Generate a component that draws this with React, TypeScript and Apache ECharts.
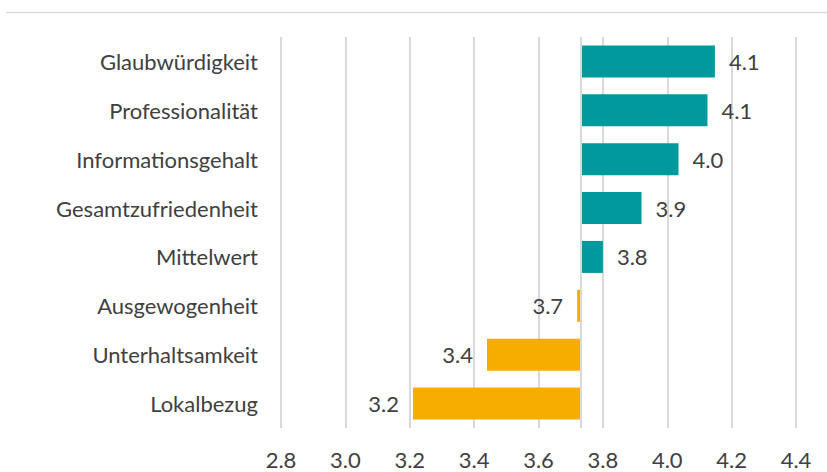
import React, { useEffect, useRef } from "react";
import * as echarts from "echarts";

const categories = [
  "Glaubwürdigkeit",
  "Professionalität",
  "Informationsgehalt",
  "Gesamtzufriedenheit",
  "Mittelwert",
  "Ausgewogenheit",
  "Unterhaltsamkeit",
  "Lokalbezug",
];
const values = [4.148, 4.125, 4.035, 3.92, 3.8, 3.72, 3.44, 3.21];
const baseline = 3.73;
const xTicks = { min: 2.8, max: 4.4, interval: 0.2 };

const TEAL = "#009a9e";
const ORANGE = "#f7ac00";
const TEXT = "#404040";
const FONT = "Lato";
const FS = 22;

export default function App() {
  const ref = useRef<HTMLDivElement>(null);
  useEffect(() => {
    document.body.style.margin = "0";
    const chart = echarts.init(ref.current!, null, { renderer: "svg" });
    const baseData = values.map((v) => Math.min(v, baseline));
    const barData = values.map((v) => ({
      value: Math.abs(v - baseline),
      itemStyle: { color: v >= baseline ? TEAL : ORANGE },
      label: { position: v >= baseline ? "right" : "left" },
    }));
    chart.setOption({
      animation: false,
      grid: { left: 281, right: 31, top: 37, bottom: 44, containLabel: false },
      graphic: [
        {
          type: "line",
          shape: { x1: 6, y1: 12.5, x2: 827, y2: 12.5 },
          style: { stroke: "#d9d9d9", lineWidth: 1.5 },
        },
      ],
      xAxis: {
        type: "value",
        min: xTicks.min,
        max: xTicks.max,
        interval: xTicks.interval,
        axisLine: { show: false },
        axisTick: { show: false },
        splitLine: { show: true, lineStyle: { color: "#d9d9d9", width: 2 } },
        axisLabel: {
          color: TEXT,
          fontSize: FS,
          lineHeight: 22,
          fontFamily: FONT,
          margin: 20,
          formatter: (v: number) => v.toFixed(1),
        },
      },
      yAxis: {
        type: "category",
        data: categories,
        inverse: true,
        axisLine: { show: false },
        axisTick: { show: false },
        axisLabel: { color: TEXT, fontSize: FS, fontFamily: FONT, margin: 23 },
      },
      series: [
        {
          type: "bar",
          stack: "s",
          data: baseData,
          itemStyle: { color: "transparent" },
          barWidth: 32,
          silent: true,
        },
        {
          type: "bar",
          stack: "s",
          data: barData,
          barWidth: 32,
          label: {
            show: true,
            distance: 14,
            color: TEXT,
            fontSize: FS,
            fontFamily: FONT,
            formatter: (p: any) => values[p.dataIndex].toFixed(1),
          },
          markLine: {
            silent: true,
            symbol: "none",
            label: { show: false },
            lineStyle: { color: "#d9d9d9", width: 2, type: "solid" },
            data: [{ xAxis: baseline }],
          },
        },
      ],
    });
    return () => chart.dispose();
  }, []);
  return <div ref={ref} style={{ width: 827, height: 472 }} />;
}
